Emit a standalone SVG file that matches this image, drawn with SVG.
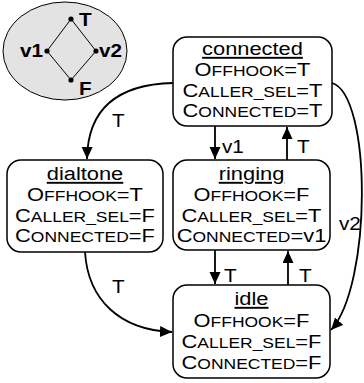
<svg xmlns="http://www.w3.org/2000/svg" width="364" height="383" viewBox="0 0 364 383">
<style>
.box{fill:#fff;stroke:#000;stroke-width:1.5}
.t{font-family:"Liberation Sans",Arial,sans-serif;font-size:19px;fill:#000;text-anchor:middle}
.sc{font-size:15.2px}
.lbl{font-family:"Liberation Sans",Arial,sans-serif;font-size:18px;fill:#000}
.blbl{font-family:"Liberation Sans",Arial,sans-serif;font-size:18px;font-weight:bold;fill:#000}
.e{fill:none;stroke:#000;stroke-width:1.8}
</style>
<defs>
<marker id="ah" markerUnits="userSpaceOnUse" markerWidth="13" markerHeight="12" refX="12" refY="5.5" orient="auto">
<path d="M0,0 L12,5.5 L0,11 z" fill="#000"/>
</marker>
</defs>
<g id="lattice">
<ellipse cx="65" cy="51" rx="62" ry="49" fill="#e3e3e3" stroke="#000" stroke-width="1"/>
<path d="M71,19 L96,51 L71,80 L47,51 z" fill="none" stroke="#000" stroke-width="1"/>
<circle cx="71" cy="19" r="2.6"/><circle cx="96" cy="51" r="2.6"/><circle cx="71" cy="80" r="2.6"/><circle cx="47" cy="51" r="2.6"/>
<text class="blbl" transform="translate(79,26) scale(1.15,1)">T</text>
<text class="blbl" transform="translate(43,57) scale(1.15,1)" text-anchor="end">v1</text>
<text class="blbl" transform="translate(99,57) scale(1.15,1)">v2</text>
<text class="blbl" transform="translate(79,95) scale(1.15,1)">F</text>
</g>
<g id="connected">
<rect class="box" x="173" y="37" width="159" height="89" rx="14"/>
<text class="t" transform="translate(252.5,55) scale(1.15,1)" text-decoration="underline">connected</text>
<text class="t" transform="translate(252.5,76) scale(1.15,1)">O<tspan class="sc">FFHOOK</tspan>=T</text>
<text class="t" transform="translate(252.5,97) scale(1.15,1)">C<tspan class="sc">ALLER_SEL</tspan>=T</text>
<text class="t" transform="translate(252.5,117) scale(1.15,1)">C<tspan class="sc">ONNECTED</tspan>=T</text>
</g>
<g id="dialtone">
<rect class="box" x="7" y="160" width="156" height="92" rx="14"/>
<text class="t" transform="translate(85,180) scale(1.15,1)" text-decoration="underline">dialtone</text>
<text class="t" transform="translate(85,201) scale(1.15,1)">O<tspan class="sc">FFHOOK</tspan>=T</text>
<text class="t" transform="translate(85,222) scale(1.15,1)">C<tspan class="sc">ALLER_SEL</tspan>=F</text>
<text class="t" transform="translate(85,242) scale(1.15,1)">C<tspan class="sc">ONNECTED</tspan>=F</text>
</g>
<g id="ringing">
<rect class="box" x="173" y="160" width="157" height="90" rx="14"/>
<text class="t" transform="translate(251.5,180) scale(1.15,1)" text-decoration="underline">ringing</text>
<text class="t" transform="translate(251.5,201) scale(1.15,1)">O<tspan class="sc">FFHOOK</tspan>=F</text>
<text class="t" transform="translate(251.5,222) scale(1.15,1)">C<tspan class="sc">ALLER_SEL</tspan>=T</text>
<text class="t" transform="translate(251.5,242) scale(1.15,1)">C<tspan class="sc">ONNECTED</tspan>=v1</text>
</g>
<g id="idle">
<rect class="box" x="173" y="285" width="157" height="93" rx="14"/>
<text class="t" transform="translate(251.5,305) scale(1.15,1)" text-decoration="underline">idle</text>
<text class="t" transform="translate(251.5,327) scale(1.15,1)">O<tspan class="sc">FFHOOK</tspan>=F</text>
<text class="t" transform="translate(251.5,348) scale(1.15,1)">C<tspan class="sc">ALLER_SEL</tspan>=F</text>
<text class="t" transform="translate(251.5,369) scale(1.15,1)">C<tspan class="sc">ONNECTED</tspan>=F</text>
</g>
<g id="connectors">
<path class="e" d="M215,126 L215,159" marker-end="url(#ah)"/>
<path class="e" d="M287,160 L287,127" marker-end="url(#ah)"/>
<path class="e" d="M215,250 L215,284" marker-end="url(#ah)"/>
<path class="e" d="M288,285 L288,251" marker-end="url(#ah)"/>
<path class="e" d="M173,83 Q88,85 87,159" marker-end="url(#ah)"/>
<path class="e" d="M85,252 C88,300 120,330 172,332" marker-end="url(#ah)"/>
<path class="e" d="M332,83 C372,95 372,285 331,330" marker-end="url(#ah)"/>
<text class="lbl" transform="translate(222,153) scale(1.15,1)">v1</text>
<text class="lbl" transform="translate(297,153) scale(1.15,1)">T</text>
<text class="lbl" transform="translate(224,282) scale(1.15,1)">T</text>
<text class="lbl" transform="translate(299,282) scale(1.15,1)">T</text>
<text class="lbl" transform="translate(112,127) scale(1.15,1)">T</text>
<text class="lbl" transform="translate(112,293) scale(1.15,1)">T</text>
<text class="lbl" transform="translate(339,230) scale(1.15,1)">v2</text>
</g>
</svg>
